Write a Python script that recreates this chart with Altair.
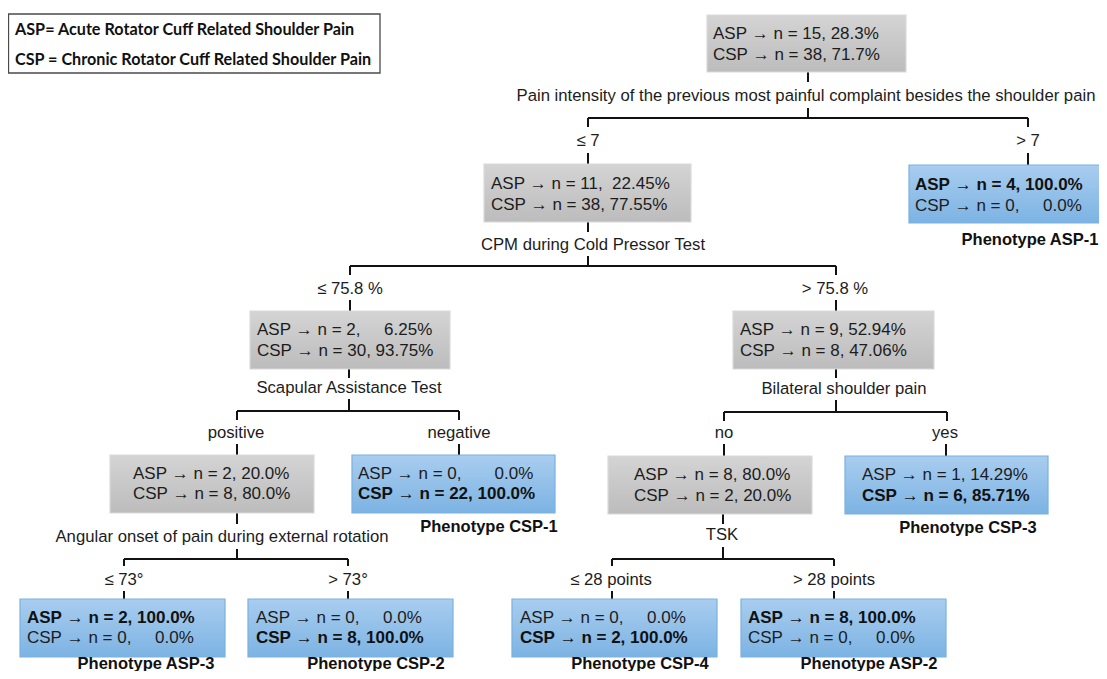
import altair as alt
import pandas as pd

NB = "\u00a0"


def sp(s):
    return s.replace(" ", NB)


# ---------------- node contents ----------------
node_ids = ["root", "n2", "asp1", "n3", "n4", "n5", "csp1", "n6", "csp3",
            "asp3", "csp2", "csp4", "asp2"]
node_kind = ["split", "split", "leaf", "split", "split", "split", "leaf",
             "split", "leaf", "leaf", "leaf", "leaf", "leaf"]
asp_text = ["ASP → n = 15, 28.3%", "ASP → n = 11,  22.45%", "ASP → n = 4, 100.0%",
            "ASP → n = 2,     6.25%", "ASP → n = 9, 52.94%", "ASP → n = 2, 20.0%",
            "ASP → n = 0,       0.0%", "ASP → n = 8, 80.0%", "ASP → n = 1, 14.29%",
            "ASP → n = 2, 100.0%", "ASP → n = 0,     0.0%", "ASP → n = 0,     0.0%",
            "ASP → n = 8, 100.0%"]
csp_text = ["CSP → n = 38, 71.7%", "CSP → n = 38, 77.55%", "CSP → n = 0,     0.0%",
            "CSP → n = 30, 93.75%", "CSP → n = 8, 47.06%", "CSP → n = 8, 80.0%",
            "CSP → n = 22, 100.0%", "CSP → n = 2, 20.0%", "CSP → n = 6, 85.71%",
            "CSP → n = 0,     0.0%", "CSP → n = 8, 100.0%", "CSP → n = 2, 100.0%",
            "CSP → n = 0,     0.0%"]
bold_row = ["", "", "asp", "", "", "", "csp", "", "csp", "asp", "csp", "csp", "asp"]
phenotype = ["", "", "Phenotype ASP-1", "", "", "", "Phenotype CSP-1", "",
             "Phenotype CSP-3", "Phenotype ASP-3", "Phenotype CSP-2",
             "Phenotype CSP-4", "Phenotype ASP-2"]

# ---------------- split questions / branch labels ----------------
label_text = ["Pain intensity of the previous most painful complaint besides the shoulder pain",
              "≤ 7", "> 7", "CPM during Cold Pressor Test", "≤ 75.8 %", "> 75.8 %",
              "Scapular Assistance Test", "Bilateral shoulder pain",
              "positive", "negative", "no", "yes",
              "Angular onset of pain during external rotation", "TSK",
              "≤ 73°", "> 73°", "≤ 28 points", "> 28 points"]

legend_text = ["ASP= Acute Rotator Cuff Related Shoulder Pain",
               "CSP = Chronic Rotator Cuff Related Shoulder Pain"]

# ---------------- layout (pixel positions) ----------------
box_x1 = [707, 484, 909, 250, 733, 110, 352, 608, 845, 20, 248, 512, 741]
box_x2 = [906, 691, 1115, 450, 934, 314, 555, 812, 1048, 225, 453, 717, 946]
box_y1 = [15, 164, 165, 311, 311, 455, 455, 456, 456, 599, 599, 599, 599]
box_y2 = [72, 222, 223, 369, 369, 513, 513, 514, 514, 657, 657, 657, 657]
text_x = [713, 491, 915, 257, 740, 133, 358, 634, 862, 27, 256, 520, 748]
line1_y = [34, 184, 185, 330, 330, 474, 474, 475, 475, 618, 618, 618, 618]
line2_y = [55, 205, 206, 351, 351, 494, 494, 496, 496, 638, 638, 638, 638]
pheno_x = [0, 0, 1030, 0, 0, 0, 489, 0, 968, 146, 376, 640, 869]
pheno_y = [0, 0, 240, 0, 0, 0, 527, 0, 528, 664, 664, 664, 664]

label_x = [806, 588, 1028, 593, 350, 835, 349, 844, 236, 459, 724, 945, 222, 722,
           124, 348, 611, 834]
label_y = [96, 141, 141, 245, 289, 289, 388, 389, 433, 433, 433, 433, 537, 535,
           580, 580, 580, 580]

seg_x1 = [808, 808, 588, 588, 1028, 588, 1028,
          588, 588, 350, 350, 836, 350, 836,
          349, 349, 237, 237, 459, 237, 459,
          836, 836, 724, 724, 947, 724, 946,
          237, 237, 124, 124, 348, 124, 348,
          723, 723, 612, 612, 834, 612, 834]
seg_x2 = [808, 808, 1028, 588, 1028, 588, 1028,
          588, 588, 836, 350, 836, 350, 836,
          349, 349, 459, 237, 459, 237, 459,
          836, 836, 947, 724, 947, 724, 946,
          237, 237, 348, 124, 348, 124, 348,
          723, 723, 834, 612, 834, 612, 834]
seg_y1 = [72, 108, 118, 118, 118, 153, 153,
          222, 256, 266, 266, 266, 300, 300,
          369, 399, 411, 411, 411, 444, 444,
          369, 400, 412, 412, 412, 444, 444,
          513, 549, 559, 559, 559, 591, 591,
          514, 547, 559, 559, 559, 591, 591]
seg_y2 = [82, 118, 118, 127, 127, 164, 165,
          232, 266, 266, 275, 275, 311, 311,
          378, 411, 411, 420, 420, 455, 455,
          378, 412, 412, 421, 421, 456, 456,
          524, 559, 559, 566, 566, 599, 599,
          524, 559, 559, 566, 566, 599, 599]

legend_y = [30, 60]

# ---------------- tables ----------------
boxes = pd.DataFrame({"id": node_ids, "kind": node_kind, "x": box_x1, "x2": box_x2,
                      "y": box_y1, "y2": box_y2})

rows = []
for i in range(len(node_ids)):
    rows.append({"x": text_x[i], "y": line1_y[i], "text": sp(asp_text[i]),
                 "bold": bold_row[i] == "asp"})
    rows.append({"x": text_x[i], "y": line2_y[i], "text": sp(csp_text[i]),
                 "bold": bold_row[i] == "csp"})
box_text = pd.DataFrame(rows)

pheno = pd.DataFrame({"x": pheno_x, "y": pheno_y, "text": phenotype})
pheno = pheno[pheno["text"] != ""]

labels = pd.DataFrame({"x": label_x, "y": label_y, "text": label_text})
segs = pd.DataFrame({"x": seg_x1, "x2": seg_x2, "y": seg_y1, "y2": seg_y2})
legend_df = pd.DataFrame({"x": [15, 15], "y": legend_y, "text": legend_text})
legend_box = pd.DataFrame({"x": [8.5], "x2": [380], "y": [14], "y2": [73]})

X = alt.X("x:Q", scale=alt.Scale(domain=[8, 1099], nice=False, zero=False), axis=None)
Y = alt.Y("y:Q", scale=alt.Scale(domain=[8, 671], nice=False, zero=False, reverse=True),
          axis=None)

FONT = "Liberation Sans"
TXT = "#1c1c1c"

gray_grad = alt.Gradient(gradient="linear", x1=0, x2=0, y1=0, y2=1,
                         stops=[alt.GradientStop(color="#d4d4d4", offset=0),
                                alt.GradientStop(color="#bcbcbc", offset=1)])
blue_grad = alt.Gradient(gradient="linear", x1=0, x2=0, y1=0, y2=1,
                         stops=[alt.GradientStop(color="#a9cdef", offset=0),
                                alt.GradientStop(color="#7cb3e3", offset=1)])

legend_rect = alt.Chart(legend_box).mark_rect(fill="white", stroke="#4a4a4a",
                                             strokeWidth=1.3).encode(
    x=X, x2="x2:Q", y=Y, y2="y2:Q")

gray_boxes = alt.Chart(boxes).transform_filter("datum.kind == 'split'").mark_rect(
    fill=gray_grad, stroke="#dadada", strokeWidth=1.2).encode(x=X, x2="x2:Q", y=Y, y2="y2:Q")
blue_boxes = alt.Chart(boxes).transform_filter("datum.kind == 'leaf'").mark_rect(
    fill=blue_grad, stroke="#79b1e2", strokeWidth=1.2).encode(x=X, x2="x2:Q", y=Y, y2="y2:Q")

rules = alt.Chart(segs).mark_rule(color="#111111", strokeWidth=2).encode(
    x=X, x2="x2:Q", y=Y, y2="y2:Q")

txt_normal = alt.Chart(box_text).transform_filter("!datum.bold").mark_text(
    align="left", baseline="middle", font=FONT, fontSize=17, color=TXT).encode(
    x=X, y=Y, text="text:N")
txt_bold = alt.Chart(box_text).transform_filter("datum.bold").mark_text(
    align="left", baseline="middle", font=FONT, fontSize=17, fontWeight="bold",
    color="#111111").encode(x=X, y=Y, text="text:N")

lab = alt.Chart(labels).mark_text(align="center", baseline="middle", font=FONT,
                                  fontSize=16.7, color=TXT).encode(x=X, y=Y, text="text:N")
phen = alt.Chart(pheno).mark_text(align="center", baseline="middle", font=FONT,
                                  fontSize=16.5, fontWeight="bold", color="#111111").encode(
    x=X, y=Y, text="text:N")
leg = alt.Chart(legend_df).mark_text(align="left", baseline="middle", font="Lato",
                                     fontSize=16.2, fontWeight="bold", color="#111111").encode(
    x=X, y=Y, text="text:N")

chart = alt.layer(legend_rect, rules, gray_boxes, blue_boxes, txt_normal, txt_bold,
                  lab, phen, leg).properties(
    width=1091, height=663, padding=0, autosize=alt.AutoSizeParams(type="none")
).configure_view(stroke=None)

chart.save("out.html", embed_options={"renderer": "svg", "actions": False})
